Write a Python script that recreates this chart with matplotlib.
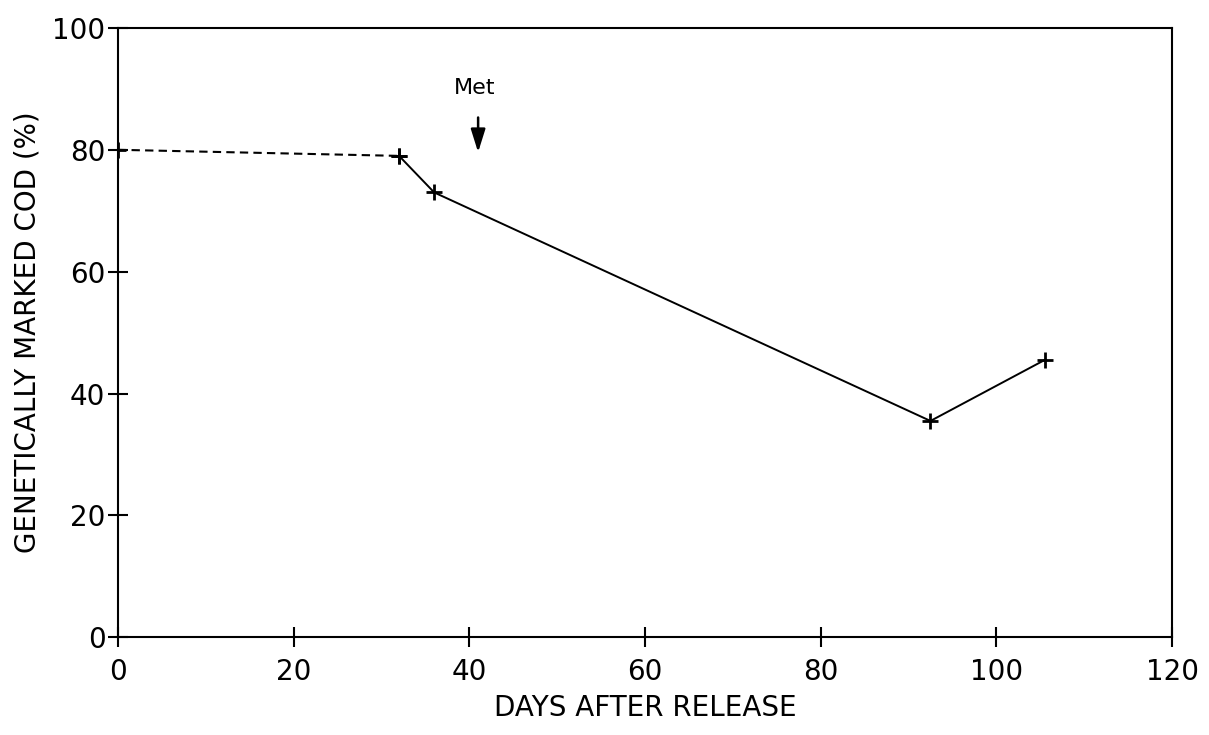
import matplotlib.pyplot as plt
import numpy as np

# survey points (days after release, % genetically marked)
days_dash = [0, 32]
pct_dash = [80, 79]
days = [32, 36, 92.5, 105.5]
pct = [79, 73, 35.5, 45.5]

met_day = 41
x_ticks = [0, 20, 40, 60, 80, 100, 120]
y_ticks = [0, 20, 40, 60, 80, 100]

fig = plt.figure(figsize=(12.09, 7.35), dpi=100)
ax = fig.add_axes([0.0976, 0.133, 0.8718, 0.829])

ax.plot(days_dash, pct_dash, color='black', linestyle='--', linewidth=1.5,
        dashes=(4, 2.5), marker='+', markersize=11, markeredgewidth=2)
ax.plot(days, pct, color='black', linewidth=1.4,
        marker='+', markersize=11, markeredgewidth=2)

ax.annotate('', xy=(met_day, 79.6), xytext=(met_day, 85.3),
            arrowprops=dict(arrowstyle='-|>,head_length=0.7,head_width=0.22',
                            color='black', lw=1.8, mutation_scale=20,
                            shrinkA=0, shrinkB=0))
ax.text(met_day - 0.4, 90.2, 'Met', fontsize=16, ha='center', va='center')

ax.set_xlim(0, 120)
ax.set_ylim(0, 100)
ax.set_xticks(x_ticks)
ax.set_yticks(y_ticks)
ax.tick_params(direction='inout', length=14, width=1.5, labelsize=20)
ax.tick_params(axis='x', pad=8)
ax.tick_params(axis='y', pad=2)
for s in ax.spines.values():
    s.set_linewidth(1.5)

ax.set_xlabel('DAYS AFTER RELEASE', fontsize=20, labelpad=6)
ax.set_ylabel('GENETICALLY MARKED COD (%)', fontsize=20, labelpad=8)

plt.savefig('out.png', dpi=100)
